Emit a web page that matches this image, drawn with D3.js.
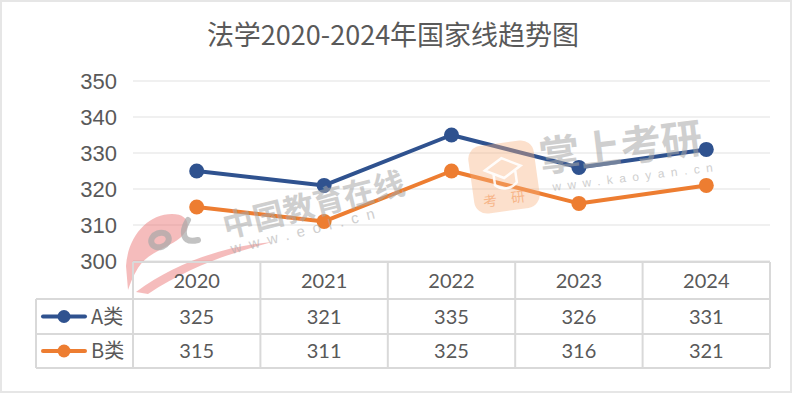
<!DOCTYPE html>
<html>
<head>
<meta charset="utf-8">
<script src="https://cdn.jsdelivr.net/npm/d3@7"></script>
<style>
  html, body { margin: 0; padding: 0; background: #fff; }
  svg text { fill: #595959; }
</style>
</head>
<body>
<div id="chart"></div>
<script>
(function(){
    var width = 794, height = 395;

    // data
    var years = ["2020", "2021", "2022", "2023", "2024"];
    var seriesNames = ["A类", "B类"];
    var valuesA = [325, 321, 335, 326, 331];
    var valuesB = [315, 311, 325, 316, 321];
    var yTicks = [300, 310, 320, 330, 340, 350];
    var title = "法学2020-2024年国家线趋势图";

    var colors = ["#2F528F", "#ED7D31"];
    var series = [valuesA, valuesB];

    var svg = d3.select("#chart")
    .append("svg")
    .attr("width", width)
    .attr("height", height);

    // outer frame
    svg.append("rect")
    .attr("x", 1).attr("y", 1)
    .attr("width", 790).attr("height", 391)
    .attr("fill", "#fff")
    .attr("stroke", "#e6e6e6")
    .attr("stroke-width", 2);

    var x = d3.scaleBand().domain(years).range([133, 770]);
    var y = d3.scaleLinear().domain([300, 350]).range([261, 81]);

    // gridlines
    svg.append("g")
    .selectAll("line")
    .data(yTicks)
    .enter().append("line")
    .attr("x1", 133).attr("x2", 770)
    .attr("y1", function(d){ return y(d); })
    .attr("y2", function(d){ return y(d); })
    .attr("stroke", "#ebebeb")
    .attr("stroke-width", 1.5);

    // title
    svg.append("text")
    .attr("x", 393).attr("y", 45)
    .attr("text-anchor", "middle")
    .style("font-family", "'Noto Sans CJK SC'")
    .style("font-size", "27px")
    .text(title);

    // y axis labels
    svg.append("g")
    .selectAll("text")
    .data(yTicks)
    .enter().append("text")
    .attr("x", 117)
    .attr("y", function(d){ return y(d) + 8; })
    .attr("text-anchor", "end")
    .style("font-family", "'Liberation Sans', Arial")
    .style("font-size", "22px")
    .text(function(d){ return d; });

    // lines + markers
    var line = d3.line()
    .x(function(d, i){ return x(years[i]) + x.bandwidth() / 2; })
    .y(function(d){ return y(d); });

    series.forEach(function(vals, k){
        var g = svg.append("g");
        g.append("path")
        .datum(vals)
        .attr("d", line)
        .attr("fill", "none")
        .attr("stroke", colors[k])
        .attr("stroke-width", 4)
        .attr("stroke-linejoin", "round");
        g.selectAll("circle")
        .data(vals)
        .enter().append("circle")
        .attr("cx", function(d, i){ return x(years[i]) + x.bandwidth() / 2; })
        .attr("cy", function(d){ return y(d); })
        .attr("r", 7.5)
        .attr("fill", colors[k]);
    });

    // watermarks (semi transparent, over the lines)
    var wm = svg.append("g").attr("class", "watermark");
    // eol logo
    wm.append("path")
    .attr("d", "M126,266 C128,236 148,214 172,214 C190,214 192,228 180,238 C168,248 148,252 138,268 C133,276 130,284 128,290 Z")
    .attr("fill", "#e86a6a").attr("opacity", 0.45);
    wm.append("path")
    .attr("d", "M136,292 C176,262 226,246 272,242 C234,252 190,266 148,294 Z")
    .attr("fill", "#e86a6a").attr("opacity", 0.45);
    wm.append("ellipse")
    .attr("cx", 160).attr("cy", 240).attr("rx", 9).attr("ry", 7)
    .attr("transform", "rotate(-20,160,240)")
    .attr("fill", "none").attr("stroke", "#a8a8a8").attr("stroke-width", 6).attr("opacity", 0.7);
    wm.append("path")
    .attr("d", "M188,220 C181,232 182,244 198,240")
    .attr("fill", "none").attr("stroke", "#a8a8a8").attr("stroke-width", 6).attr("stroke-linecap", "round").attr("opacity", 0.7);
    wm.append("text")
    .attr("transform", "translate(226,238) rotate(-14)")
    .style("font-family", "'Noto Sans CJK SC'")
    .style("font-size", "31px").style("font-weight", "bold")
    .style("fill", "#a8a8a8").attr("opacity", 0.55)
    .text("中国教育在线");
    wm.append("text")
    .attr("transform", "translate(232,254) rotate(-14)")
    .style("font-family", "'Liberation Sans'")
    .style("font-size", "15px").style("letter-spacing", "8px")
    .style("fill", "#a8a8a8").attr("opacity", 0.55)
    .text("www.eol.cn");
    // kaoyan logo
    wm.append("rect")
    .attr("x", 471).attr("y", 143).attr("width", 66).attr("height", 68).attr("rx", 13)
    .attr("transform", "rotate(-8,504,177)")
    .attr("fill", "#f7b27f").attr("opacity", 0.4);
    wm.append("path")
    .attr("d", "M486,168 L504,158 L522,168 L504,178 Z M494,172 L494,184 C500,190 510,190 516,184 L516,172")
    .attr("transform", "rotate(-8,504,177)")
    .attr("fill", "none").attr("stroke", "#fff").attr("stroke-width", 2.5).attr("opacity", 0.9);
    wm.append("text")
    .attr("transform", "translate(484,207) rotate(-8)")
    .style("font-family", "'Noto Sans CJK SC'")
    .style("font-size", "14px").style("letter-spacing", "14px")
    .style("fill", "#f49a5c").attr("opacity", 0.6)
    .text("考研");
    wm.append("text")
    .attr("transform", "translate(541,172) rotate(-7)")
    .style("font-family", "'Noto Sans CJK SC'")
    .style("font-size", "41px").style("font-weight", "bold")
    .style("fill", "#a8a8a8").attr("opacity", 0.55)
    .text("掌上考研");
    wm.append("text")
    .attr("transform", "translate(553,191) rotate(-7)")
    .style("font-family", "'Liberation Sans'")
    .style("font-size", "12px").style("letter-spacing", "6.5px")
    .style("fill", "#a8a8a8").attr("opacity", 0.55)
    .text("www.kaoyan.cn");

    // data table
    var rowTop = [262, 299, 334, 368];
    var legendLeft = 36;
    var table = svg.append("g");
    var gridColor = "#d9d9d9";

    table.append("line")
    .attr("x1", 133).attr("x2", 770)
    .attr("y1", rowTop[0]).attr("y2", rowTop[0])
    .attr("stroke", gridColor).attr("stroke-width", 2);
    table.selectAll(".hline")
    .data(rowTop.slice(1))
    .enter().append("line")
    .attr("class", "hline")
    .attr("x1", legendLeft).attr("x2", 770)
    .attr("y1", function(d){ return d; }).attr("y2", function(d){ return d; })
    .attr("stroke", gridColor).attr("stroke-width", 2);
    var vx = years.map(function(d){ return x(d); }).concat([x.range()[1]]);
    table.selectAll(".vline")
    .data(vx)
    .enter().append("line")
    .attr("class", "vline")
    .attr("x1", function(d){ return d; }).attr("x2", function(d){ return d; })
    .attr("y1", rowTop[0]).attr("y2", rowTop[3])
    .attr("stroke", gridColor).attr("stroke-width", 2);
    table.append("line")
    .attr("x1", legendLeft).attr("x2", legendLeft)
    .attr("y1", rowTop[1]).attr("y2", rowTop[3])
    .attr("stroke", gridColor).attr("stroke-width", 2);

    // header
    table.selectAll(".year")
    .data(years)
    .enter().append("text")
    .attr("class", "year")
    .attr("x", function(d){ return x(d) + x.bandwidth() / 2; })
    .attr("y", (rowTop[0] + rowTop[1]) / 2 + 7)
    .attr("text-anchor", "middle")
    .style("font-family", "Lato, 'Noto Sans'")
    .style("font-size", "20px")
    .text(function(d){ return d; });

    // rows
    series.forEach(function(vals, k){
        var cy = (rowTop[k + 1] + rowTop[k + 2]) / 2;
        table.selectAll(".v" + k)
        .data(vals)
        .enter().append("text")
        .attr("class", "v" + k)
        .attr("x", function(d, i){ return x(years[i]) + x.bandwidth() / 2; })
        .attr("y", cy + 7)
        .attr("text-anchor", "middle")
        .style("font-family", "Lato, 'Noto Sans'")
        .style("font-size", "20px")
        .text(function(d){ return d; });
        // legend key
        table.append("line")
        .attr("x1", 43).attr("x2", 85)
        .attr("y1", cy).attr("y2", cy)
        .attr("stroke", colors[k]).attr("stroke-width", 4)
        .attr("stroke-linecap", "round");
        table.append("circle")
        .attr("cx", 64).attr("cy", cy).attr("r", 6.5)
        .attr("fill", colors[k]);
        table.append("text")
        .attr("x", 91).attr("y", cy + 7)
        .style("font-family", "'Noto Sans CJK SC'")
        .style("font-size", "20px")
        .text(seriesNames[k]);
    });
})();
</script>
</body>
</html>
